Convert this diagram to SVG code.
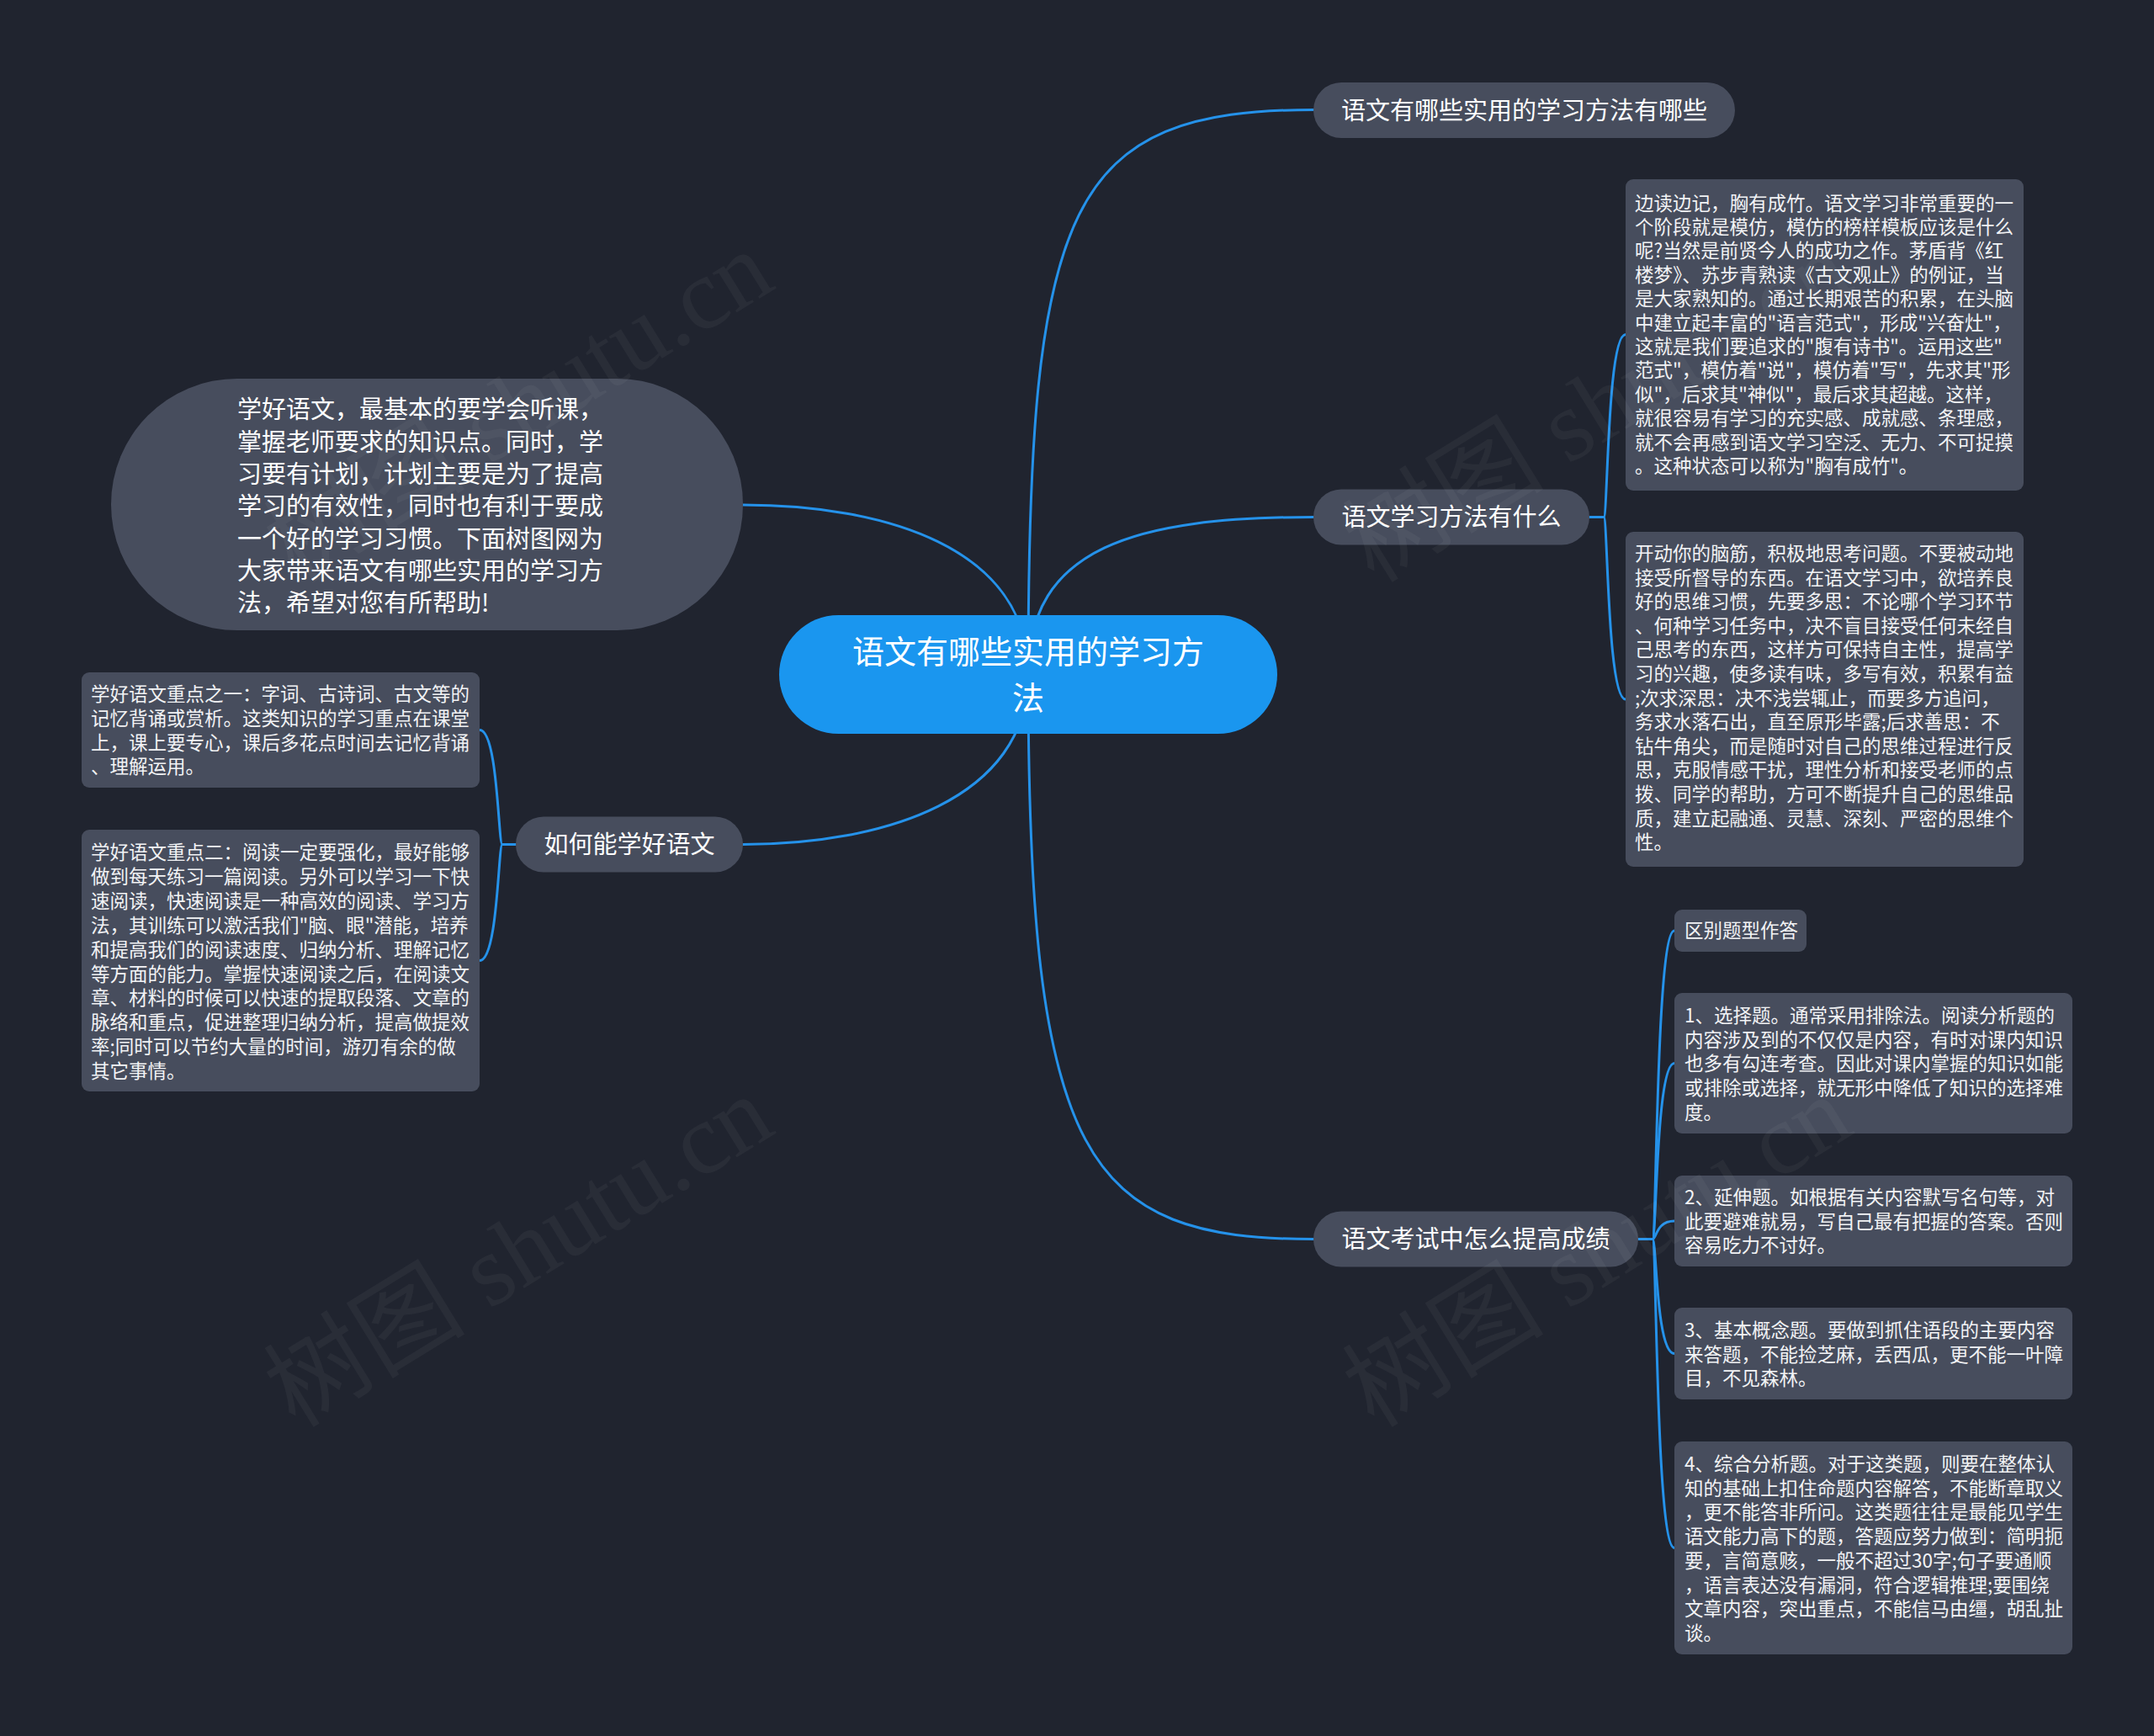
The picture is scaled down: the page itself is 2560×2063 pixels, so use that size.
<svg xmlns="http://www.w3.org/2000/svg" width="2560" height="2063" viewBox="0 0 2560 2063">
<defs>
<style>
.bg{fill:#20242f}
.n1{fill:#474d5d}
.root{fill:#1a96ef}
.box{fill:#474d5d}
.ln{fill:none;stroke:#2592ea;stroke-width:3;stroke-linecap:round}
.t{font-family:"Noto Sans CJK SC","Noto Sans",sans-serif;fill:#ffffff}
.t1{font-size:29px;text-anchor:middle}
.tr{font-size:38px;text-anchor:middle}
.ti{font-size:29px}
.td{font-size:22.5px;fill:#f2f3f5}
.wm{font-family:"Liberation Serif","Noto Sans CJK SC",serif;font-size:120px;fill:#ffffff;opacity:0.038}
</style>
</defs>
<rect class="bg" x="0" y="0" width="2560" height="2063"/>

<g id="connectors">
<path class="ln" d="M1222,801 C1222,650 1050,600 883,600"/>
<path class="ln" d="M1222,801 C1222,240 1270,130.5 1561,130.5"/>
<path class="ln" d="M1222,801 C1222,650 1350,614.5 1561,614.5"/>
<path class="ln" d="M1222,801 C1222,950 1050,1003.5 883,1003.5"/>
<path class="ln" d="M1222,801 C1222,1380 1290,1472.5 1561,1472.5"/>
<path class="ln" d="M1889,614.5 L1906,614.5 C1911,614.5 1910,397.5 1932,397.5"/>
<path class="ln" d="M1889,614.5 L1906,614.5 C1911,614.5 1910,831 1932,831"/>
<path class="ln" d="M613,1003.5 L597,1003.5 C592,1003.5 592,867.5 570,867.5"/>
<path class="ln" d="M613,1003.5 L597,1003.5 C592,1003.5 592,1141.5 570,1141.5"/>
<path class="ln" d="M1947,1472.5 L1964,1472.5 C1969,1472.5 1968,1106 1990,1106"/>
<path class="ln" d="M1947,1472.5 L1964,1472.5 C1969,1472.5 1968,1263.5 1990,1263.5"/>
<path class="ln" d="M1947,1472.5 L1964,1472.5 C1969,1472.5 1968,1451 1990,1451"/>
<path class="ln" d="M1947,1472.5 L1964,1472.5 C1969,1472.5 1968,1608.5 1990,1608.5"/>
<path class="ln" d="M1947,1472.5 L1964,1472.5 C1969,1472.5 1968,1839.5 1990,1839.5"/>
</g>

<g id="root">
<rect class="root" x="926" y="731" width="592" height="141" rx="70.5"/>
<text class="t tr"><tspan x="1222" y="788">语文有哪些实用的学习方</tspan><tspan x="1222" y="843">法</tspan></text>
</g>

<g id="intro">
<rect class="n1" x="132" y="450" width="751" height="299" rx="149.5"/>
<text class="t ti">
<tspan x="282" y="497.4">学好语文，最基本的要学会听课，</tspan>
<tspan x="282" dy="38.3">掌握老师要求的知识点。同时，学</tspan>
<tspan x="282" dy="38.3">习要有计划，计划主要是为了提高</tspan>
<tspan x="282" dy="38.3">学习的有效性，同时也有利于要成</tspan>
<tspan x="282" dy="38.3">一个好的学习习惯。下面树图网为</tspan>
<tspan x="282" dy="38.3">大家带来语文有哪些实用的学习方</tspan>
<tspan x="282" dy="38.3">法，希望对您有所帮助!</tspan>
</text>
</g>

<g id="n-methods-list">
<rect class="n1" x="1561" y="98" width="501" height="66" rx="33"/>
<text class="t t1" x="1811.5" y="141.5">语文有哪些实用的学习方法有哪些</text>
</g>

<g id="n-methods">
<rect class="n1" x="1561" y="581.5" width="328" height="66" rx="33"/>
<text class="t t1" x="1725" y="625">语文学习方法有什么</text>
</g>

<g id="n-exam">
<rect class="n1" x="1561" y="1439.5" width="386" height="66" rx="33"/>
<text class="t t1" x="1754" y="1483">语文考试中怎么提高成绩</text>
</g>

<g id="n-how">
<rect class="n1" x="613" y="970.5" width="270" height="66" rx="33"/>
<text class="t t1" x="748" y="1014">如何能学好语文</text>
</g>

<g id="d-method-a">
<rect class="box" x="1932" y="213" width="473" height="370" rx="9"/>
<text class="t td">
<tspan x="1943" y="249.5">边读边记，胸有成竹。语文学习非常重要的一</tspan>
<tspan x="1943" dy="28.4">个阶段就是模仿，模仿的榜样模板应该是什么</tspan>
<tspan x="1943" dy="28.4">呢?当然是前贤今人的成功之作。茅盾背《红</tspan>
<tspan x="1943" dy="28.4">楼梦》、苏步青熟读《古文观止》的例证，当</tspan>
<tspan x="1943" dy="28.4">是大家熟知的。通过长期艰苦的积累，在头脑</tspan>
<tspan x="1943" dy="28.4">中建立起丰富的"语言范式"，形成"兴奋灶"，</tspan>
<tspan x="1943" dy="28.4">这就是我们要追求的"腹有诗书"。运用这些"</tspan>
<tspan x="1943" dy="28.4">范式"，模仿着"说"，模仿着"写"，先求其"形</tspan>
<tspan x="1943" dy="28.4">似"，后求其"神似"，最后求其超越。这样，</tspan>
<tspan x="1943" dy="28.4">就很容易有学习的充实感、成就感、条理感，</tspan>
<tspan x="1943" dy="28.4">就不会再感到语文学习空泛、无力、不可捉摸</tspan>
<tspan x="1943" dy="28.4">。这种状态可以称为"胸有成竹"。</tspan>
</text>
</g>

<g id="d-method-b">
<rect class="box" x="1932" y="632" width="473" height="398" rx="9"/>
<text class="t td">
<tspan x="1943" y="666">开动你的脑筋，积极地思考问题。不要被动地</tspan>
<tspan x="1943" dy="28.6">接受所督导的东西。在语文学习中，欲培养良</tspan>
<tspan x="1943" dy="28.6">好的思维习惯，先要多思：不论哪个学习环节</tspan>
<tspan x="1943" dy="28.6">、何种学习任务中，决不盲目接受任何未经自</tspan>
<tspan x="1943" dy="28.6">己思考的东西，这样方可保持自主性，提高学</tspan>
<tspan x="1943" dy="28.6">习的兴趣，使多读有味，多写有效，积累有益</tspan>
<tspan x="1943" dy="28.6">;次求深思：决不浅尝辄止，而要多方追问，</tspan>
<tspan x="1943" dy="28.6">务求水落石出，直至原形毕露;后求善思：不</tspan>
<tspan x="1943" dy="28.6">钻牛角尖，而是随时对自己的思维过程进行反</tspan>
<tspan x="1943" dy="28.6">思，克服情感干扰，理性分析和接受老师的点</tspan>
<tspan x="1943" dy="28.6">拨、同学的帮助，方可不断提升自己的思维品</tspan>
<tspan x="1943" dy="28.6">质，建立起融通、灵慧、深刻、严密的思维个</tspan>
<tspan x="1943" dy="28.6">性。</tspan>
</text>
</g>

<g id="d-how-1">
<rect class="box" x="97" y="799" width="473" height="137" rx="9"/>
<text class="t td">
<tspan x="108" y="833">学好语文重点之一：字词、古诗词、古文等的</tspan>
<tspan x="108" dy="28.8">记忆背诵或赏析。这类知识的学习重点在课堂</tspan>
<tspan x="108" dy="28.8">上，课上要专心，课后多花点时间去记忆背诵</tspan>
<tspan x="108" dy="28.8">、理解运用。</tspan>
</text>
</g>

<g id="d-how-2">
<rect class="box" x="97" y="986" width="473" height="311" rx="9"/>
<text class="t td">
<tspan x="108" y="1021">学好语文重点二：阅读一定要强化，最好能够</tspan>
<tspan x="108" dy="28.9">做到每天练习一篇阅读。另外可以学习一下快</tspan>
<tspan x="108" dy="28.9">速阅读，快速阅读是一种高效的阅读、学习方</tspan>
<tspan x="108" dy="28.9">法，其训练可以激活我们"脑、眼"潜能，培养</tspan>
<tspan x="108" dy="28.9">和提高我们的阅读速度、归纳分析、理解记忆</tspan>
<tspan x="108" dy="28.9">等方面的能力。掌握快速阅读之后，在阅读文</tspan>
<tspan x="108" dy="28.9">章、材料的时候可以快速的提取段落、文章的</tspan>
<tspan x="108" dy="28.9">脉络和重点，促进整理归纳分析，提高做提效</tspan>
<tspan x="108" dy="28.9">率;同时可以节约大量的时间，游刃有余的做</tspan>
<tspan x="108" dy="28.9">其它事情。</tspan>
</text>
</g>

<g id="d-exam-0">
<rect class="box" x="1990" y="1081" width="157" height="50" rx="9"/>
<text class="t td" x="2002" y="1114.3">区别题型作答</text>
</g>

<g id="d-exam-1">
<rect class="box" x="1990" y="1180" width="473" height="167" rx="9"/>
<text class="t td">
<tspan x="2002" y="1215">1、选择题。通常采用排除法。阅读分析题的</tspan>
<tspan x="2002" dy="28.7">内容涉及到的不仅仅是内容，有时对课内知识</tspan>
<tspan x="2002" dy="28.7">也多有勾连考查。因此对课内掌握的知识如能</tspan>
<tspan x="2002" dy="28.7">或排除或选择，就无形中降低了知识的选择难</tspan>
<tspan x="2002" dy="28.7">度。</tspan>
</text>
</g>

<g id="d-exam-2">
<rect class="box" x="1990" y="1397" width="473" height="108" rx="9"/>
<text class="t td">
<tspan x="2002" y="1431">2、延伸题。如根据有关内容默写名句等，对</tspan>
<tspan x="2002" dy="28.7">此要避难就易，写自己最有把握的答案。否则</tspan>
<tspan x="2002" dy="28.7">容易吃力不讨好。</tspan>
</text>
</g>

<g id="d-exam-3">
<rect class="box" x="1990" y="1554" width="473" height="109" rx="9"/>
<text class="t td">
<tspan x="2002" y="1589">3、基本概念题。要做到抓住语段的主要内容</tspan>
<tspan x="2002" dy="28.7">来答题，不能捡芝麻，丢西瓜，更不能一叶障</tspan>
<tspan x="2002" dy="28.7">目，不见森林。</tspan>
</text>
</g>

<g id="d-exam-4">
<rect class="box" x="1990" y="1713" width="473" height="253" rx="9"/>
<text class="t td">
<tspan x="2002" y="1748">4、综合分析题。对于这类题，则要在整体认</tspan>
<tspan x="2002" dy="28.7">知的基础上扣住命题内容解答，不能断章取义</tspan>
<tspan x="2002" dy="28.7">，更不能答非所问。这类题往往是最能见学生</tspan>
<tspan x="2002" dy="28.7">语文能力高下的题，答题应努力做到：简明扼</tspan>
<tspan x="2002" dy="28.7">要，言简意赅，一般不超过30字;句子要通顺</tspan>
<tspan x="2002" dy="28.7">，语言表达没有漏洞，符合逻辑推理;要围绕</tspan>
<tspan x="2002" dy="28.7">文章内容，突出重点，不能信马由缰，胡乱扯</tspan>
<tspan x="2002" dy="28.7">谈。</tspan>
</text>
</g>

<g id="watermark">
<text class="wm" transform="translate(351,694) rotate(-31.6)">树图 shutu.cn</text>
<text class="wm" transform="translate(1633,694) rotate(-31.6)">树图 shutu.cn</text>
<text class="wm" transform="translate(351,1698) rotate(-31.6)">树图 shutu.cn</text>
<text class="wm" transform="translate(1633,1698) rotate(-31.6)">树图 shutu.cn</text>
</g>
</svg>
